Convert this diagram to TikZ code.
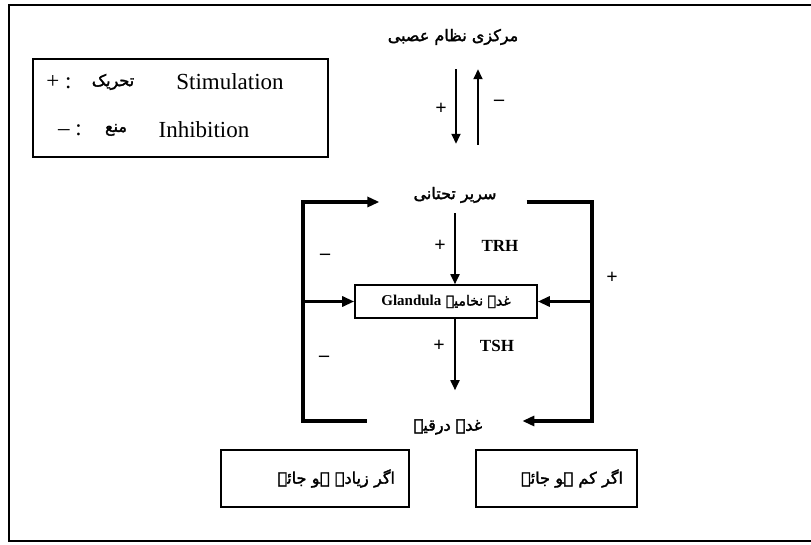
\documentclass[tikz,border=0pt]{standalone}
\usepackage{fontspec}
\setmainfont{Liberation Serif}
\newfontfamily\urdu[Script=Arabic,FakeBold=2]{DejaVu Sans}
\TeXXeTstate=1
\usetikzlibrary{arrows.meta}
\newcommand{\ur}[1]{{\urdu\beginR #1\endR}}

\begin{document}
\begin{tikzpicture}[x=1pt,y=1pt,
  loopline/.style={line width=3.6pt,-{Triangle[length=12pt,width=10pt]}},
  thinarrow/.style={line width=1.8pt,-{Triangle[length=10pt,width=9pt]}},
  box/.style={draw,line width=1.6pt,inner sep=0pt},
  leg/.style={font=\fontsize{23}{25}\selectfont},
  urd/.style={font=\fontsize{16}{19}\selectfont,inner sep=0pt},
  sign/.style={font=\fontsize{20}{22}\selectfont\bfseries,inner sep=0pt}]
\useasboundingbox (0,0) rectangle (811,544);
\draw[line width=1.4pt] (811,539) -- (9,539) -- (9,3) -- (811,3);

% legend
\node[box,minimum width=295pt,minimum height=98pt] (legend) at (180.5,436) {};
\node[leg] (plus) at (59,462) {+ :};
\node[urd] (tahrik) at (113,462) {\ur{تحریک}};
\node[leg] (stim) at (230,462) {Stimulation};
\node[leg] (minus) at (70,414) {-- :};
\node[urd] (mana) at (116,414) {\ur{منع}};
\node[leg] (inh) at (204,414) {Inhibition};

% glands
\node[urd] (cns) at (453,507) {\ur{مرکزی نظام عصبی}};
\node[urd] (hypo) at (455,349) {\ur{سریر تحتانی}};
\node[box,minimum width=182pt,minimum height=33pt,font=\fontsize{14}{16}\selectfont]
  (pit) at (446,242.5) {\ur{غدہ نخامیہ \beginL{\rmfamily\bfseries\fontsize{15}{17}\selectfont Glandula}\endL}};
\node[urd] (thy) at (448,117) {\ur{غدہ درقیہ}};
\node[box,text width=160pt,inner xsep=14pt,minimum height=57pt,align=right,
  font=\fontsize{16}{19}\selectfont] (more) at (315,65.5) {\ur{اگر زیادہ ہو جائے}};
\node[box,text width=133pt,inner xsep=14pt,minimum height=57pt,align=right,
  font=\fontsize{16}{19}\selectfont] (less) at (556.5,65.5) {\ur{اگر کم ہو جائے}};

\coordinate (tl) at (303,342);
\coordinate (bl) at (303,123);
\coordinate (tr) at (592,342);
\coordinate (br) at (592,123);

% feedback loops
\draw[loopline] ([xshift=-47pt]thy.west |- bl) -- (bl) -- (tl) -- ([xshift=-34pt]hypo.west |- tl);
\draw[loopline] (bl |- pit.west) -- (pit.west);
\draw[loopline] ([xshift=30pt]hypo.east |- tr) -- (tr) -- (br) -- ([xshift=40pt]thy.east |- br);
\draw[loopline] (br |- pit.east) -- (pit.east);

% main axis
\draw[thinarrow] ([xshift=3pt,yshift=-24pt]cns.south) -- ([xshift=1pt,yshift=43pt]hypo.north);
\draw[thinarrow] ([xshift=23pt,yshift=42pt]hypo.north) -- ([xshift=25pt,yshift=-24pt]cns.south);
\draw[thinarrow] ([yshift=-10pt]hypo.south) -- (pit.north -| hypo.south);
\draw[thinarrow] (pit.south -| hypo.south) -- ([yshift=29pt]thy.north -| hypo.south);

% signs
\node[sign] (s1) at (441,435) {+};
\node[sign] (s2) at (499,441) {--};
\node[sign] (s3) at (440,298) {+};
\node[sign,font=\fontsize{17}{19}\selectfont\bfseries] (trh) at (500,298) {TRH};
\node[sign] (s4) at (439,198) {+};
\node[sign,font=\fontsize{17}{19}\selectfont\bfseries] (tsh) at (497,198) {TSH};
\node[sign] (s5) at (325,287) {--};
\node[sign] (s6) at (324,185) {--};
\node[sign] (s7) at (612,266) {+};
\end{tikzpicture}
\end{document}
